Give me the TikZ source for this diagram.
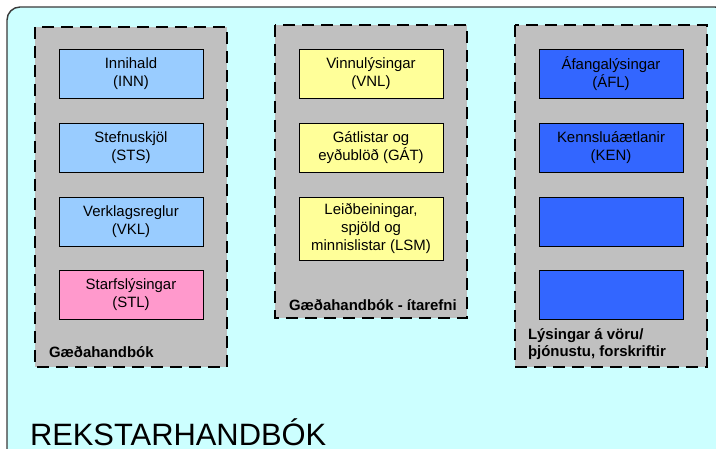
\documentclass[tikz,border=0pt]{standalone}
\usepackage{fontspec}
\setmainfont{Liberation Sans}
\begin{document}
\begin{tikzpicture}[x=1bp,y=-1bp,
  every node/.style={inner sep=0pt, outer sep=0pt},
  group/.style={draw=black, fill=grayfill, line width=1.6bp, dash pattern=on 12bp off 7bp},
  item/.style={draw=black, line width=0.7bp, minimum width=144bp, minimum height=49bp,
    align=center, font=\fontsize{15}{18.6}\selectfont},
  grouplabel/.style={anchor=base west, align=left, font=\fontsize{15}{17.5}\selectfont\bfseries},
]
\definecolor{bgcyan}{HTML}{CCFFFF}
\definecolor{grayfill}{HTML}{C0C0C0}
\definecolor{lightblue}{HTML}{99CCFF}
\definecolor{pinkfill}{HTML}{FF99CC}
\definecolor{yellowfill}{HTML}{FFFF99}
\definecolor{bluefill}{HTML}{3366FF}
\definecolor{frame}{HTML}{3A3A3A}

\useasboundingbox (0,0) rectangle (716,449);
\begin{scope}
\clip (0,0) rectangle (716,449);
% outer frame, running past the page edges
\draw[frame, fill=bgcyan, line width=1.4bp, rounded corners=13bp] (7,7) rectangle (728,462);
\end{scope}

% dashed groups
\draw[group] (35,27) rectangle (227,367);
\draw[group] (275,25) rectangle (467,318);
\draw[group] (515,25) rectangle (707,367);

% first group
\node[item, fill=lightblue] (inn) at (131,73.5) {Innihald\\(INN)};
\node[item, fill=lightblue] (sts) at (131,147.5) {Stefnuskjöl\\(STS)};
\node[item, fill=lightblue] (vkl) at (131,221.5) {Verklagsreglur\\(VKL)};
\node[item, fill=pinkfill] (stl) at (131,294.5) {Starfslýsingar\\(STL)};
\node[grouplabel] (g1) at (49,358) {Gæðahandbók};

% second group
\node[item, fill=yellowfill] (vnl) at (371,73.5) {Vinnulýsingar\\(VNL)};
\node[item, fill=yellowfill] (gat) at (371,147.5) {Gátlistar og\\eyðublöð (GÁT)};
\node[item, fill=yellowfill, minimum height=63bp, font=\fontsize{15}{17.6}\selectfont] (lsm) at (371,228.5) {Leiðbeiningar,\\spjöld og\\minnislistar (LSM)};
\node[grouplabel] (g2) at (289,311) {Gæðahandbók - ítarefni};

% third group
\node[item, fill=bluefill] (afl) at (611,73.5) {Áfangalýsingar\\(ÁFL)};
\node[item, fill=bluefill] (ken) at (611,147.5) {Kennsluáætlanir\\(KEN)};
\node[item, fill=bluefill] (b3) at (611,221.5) {};
\node[item, fill=bluefill] (b4) at (611,294.5) {};
\node[grouplabel] (g3) at (528,356.5) {Lýsingar á vöru/\\þjónustu, forskriftir};

% title
\node[anchor=base west, font=\fontsize{31}{36}\selectfont] (title) at (30,445) {REKSTARHANDBÓK};
\end{tikzpicture}
\end{document}
